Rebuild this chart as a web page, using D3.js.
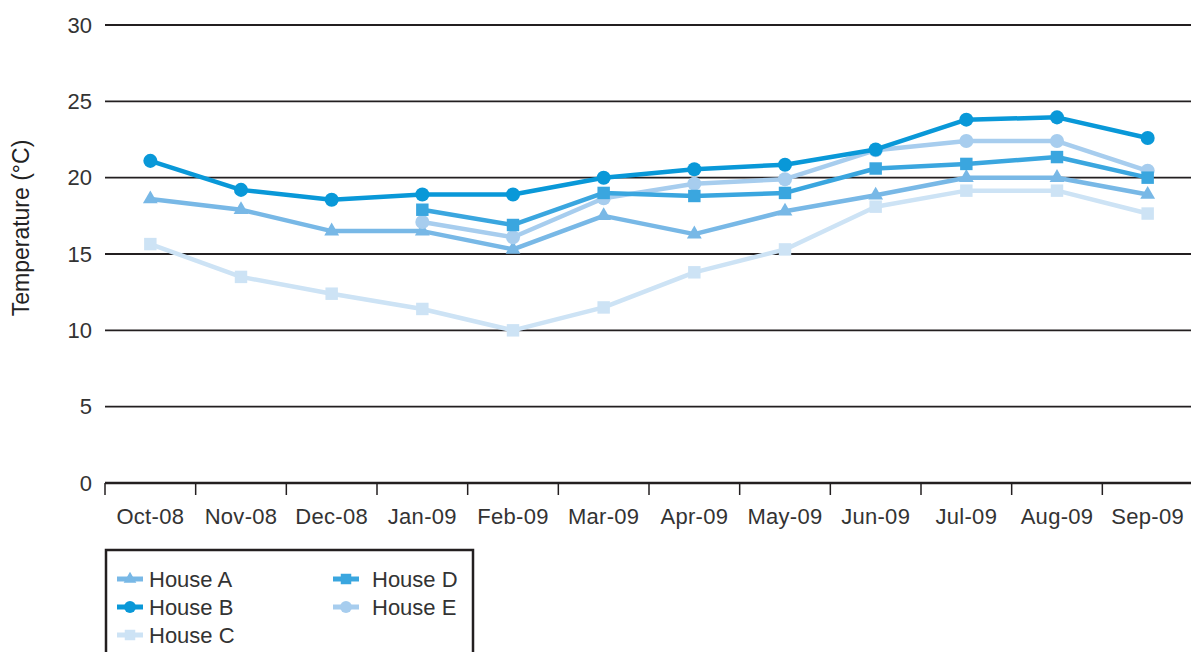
<!doctype html>
<meta charset="utf-8">
<script src="https://d3js.org/d3.v7.min.js"></script>
<style>
  body { margin: 0; background: #fff; }
  text { font-family: "Liberation Sans", Arial, sans-serif; fill: #333; }
</style>
<body>
<script>

var width = 1191;
var height = 652;

// data
var months = ["Oct-08", "Nov-08", "Dec-08", "Jan-09", "Feb-09", "Mar-09",
              "Apr-09", "May-09", "Jun-09", "Jul-09", "Aug-09", "Sep-09"];
var houseA = [18.6, 17.9, 16.5, 16.5, 15.3, 17.5, 16.3, 17.8, 18.85, 20.0, 20.0, 18.9];
var houseB = [21.1, 19.2, 18.55, 18.9, 18.9, 20.0, 20.55, 20.85, 21.85, 23.8, 23.95, 22.6];
var houseC = [15.65, 13.5, 12.4, 11.4, 10.0, 11.5, 13.8, 15.3, 18.1, 19.15, 19.15, 17.65];
var houseD = [null, null, null, 17.9, 16.9, 19.0, 18.8, 19.0, 20.6, 20.9, 21.35, 20.0];
var houseE = [null, null, null, 17.1, 16.1, 18.65, 19.6, 19.9, 21.8, 22.4, 22.4, 20.45];
var yTicks = [0, 5, 10, 15, 20, 25, 30];

var series = [
  { name: "House A", values: houseA, color: "#78b8e6", symbol: d3.symbolTriangle },
  { name: "House B", values: houseB, color: "#0998d8", symbol: d3.symbolCircle },
  { name: "House C", values: houseC, color: "#cde3f5", symbol: d3.symbolSquare },
  { name: "House D", values: houseD, color: "#3aa6df", symbol: d3.symbolSquare },
  { name: "House E", values: houseE, color: "#a7cdee", symbol: d3.symbolCircle }
];
// draw order: lightest first so darker lines sit on top
var drawOrder = ["House C", "House A", "House E", "House D", "House B"];

var svg = d3.select("body")
        .append("svg")
        .attr("width", width)
        .attr("height", height);

var x = d3.scaleBand()
        .domain(months)
        .range([105, 1193]);

var y = d3.scaleLinear()
        .domain([0, 30])
        .range([483, 25]);

// gridlines
svg.selectAll("line.grid")
        .data(yTicks.filter(function(d){ return d > 0; }))
        .enter()
        .append("line")
        .attr("x1", 105)
        .attr("x2", width)
        .attr("y1", function(d){ return y(d); })
        .attr("y2", function(d){ return y(d); })
        .style("stroke", "#231f20")
        .style("stroke-width", 1.8);

// y tick labels
svg.selectAll("text.ytick")
        .data(yTicks)
        .enter()
        .append("text")
        .attr("x", 92)
        .attr("y", function(d){ return y(d); })
        .attr("dy", "0.35em")
        .attr("text-anchor", "end")
        .style("font-size", "22px")
        .text(function(d){ return d; });

// x axis
var xAxis = svg.append("g")
        .attr("transform", "translate(0,483)");
xAxis.append("line")
        .attr("x1", 105)
        .attr("x2", width)
        .style("stroke", "#231f20")
        .style("stroke-width", 2.5);
xAxis.selectAll("line.tick")
        .data(months)
        .enter()
        .append("line")
        .attr("x1", function(d){ return x(d); })
        .attr("x2", function(d){ return x(d); })
        .attr("y1", 0)
        .attr("y2", 12)
        .style("stroke", "#231f20")
        .style("stroke-width", 1.5);
xAxis.selectAll("text")
        .data(months)
        .enter()
        .append("text")
        .attr("x", function(d){ return x(d) + x.bandwidth() / 2; })
        .attr("y", 41)
        .attr("text-anchor", "middle")
        .style("font-size", "22px")
        .style("letter-spacing", "0.3px")
        .text(function(d){ return d; });

// y axis title
svg.append("text")
        .attr("transform", "translate(29,228) rotate(-90)")
        .attr("text-anchor", "middle")
        .style("font-size", "23px")
        .style("fill", "#222")
        .text("Temperature (°C)");

var line = d3.line()
        .defined(function(d){ return d != null; })
        .x(function(d, i){ return x(months[i]) + x.bandwidth() / 2; })
        .y(function(d){ return y(d); });

var ordered = drawOrder.map(function(n){
    return series.find(function(s){ return s.name === n; });
});

ordered.forEach(function(s){
    var g = svg.append("g");
    g.append("path")
            .attr("d", line(s.values))
            .style("fill", "none")
            .style("stroke", s.color)
            .style("stroke-width", 4.5)
            .style("stroke-linejoin", "round");
    var sym = d3.symbol().type(s.symbol).size(s.symbol === d3.symbolTriangle ? 95 : 155);
    g.selectAll("path.pt")
            .data(s.values.map(function(v, i){ return { v: v, m: months[i] }; })
                    .filter(function(d){ return d.v != null; }))
            .enter()
            .append("path")
            .attr("d", sym)
            .attr("transform", function(d){
                return "translate(" + (x(d.m) + x.bandwidth() / 2) + "," + y(d.v) + ")";
            })
            .style("fill", s.color);
});

// legend
var legend = svg.append("g");
legend.append("rect")
        .attr("x", 106)
        .attr("y", 550)
        .attr("width", 367)
        .attr("height", 130)
        .style("fill", "none")
        .style("stroke", "#231f20")
        .style("stroke-width", 2.5);

var legendPos = [
  [117, 579], [117, 607], [117, 635], [333, 579], [333, 607]
];

series.forEach(function(s, i){
    var p = legendPos[i];
    var item = legend.append("g").attr("transform", "translate(" + p[0] + "," + p[1] + ")");
    item.append("line")
            .attr("x1", 0)
            .attr("x2", 26)
            .style("stroke", s.color)
            .style("stroke-width", 5);
    item.append("path")
            .attr("d", d3.symbol().type(s.symbol).size(s.symbol === d3.symbolTriangle ? 70 : 110))
            .attr("transform", "translate(13,0)")
            .style("fill", s.color);
    item.append("text")
            .attr("x", i < 3 ? 32 : 39)
            .attr("dy", "0.36em")
            .style("font-size", "22px")
            .text(s.name);
});

</script>
